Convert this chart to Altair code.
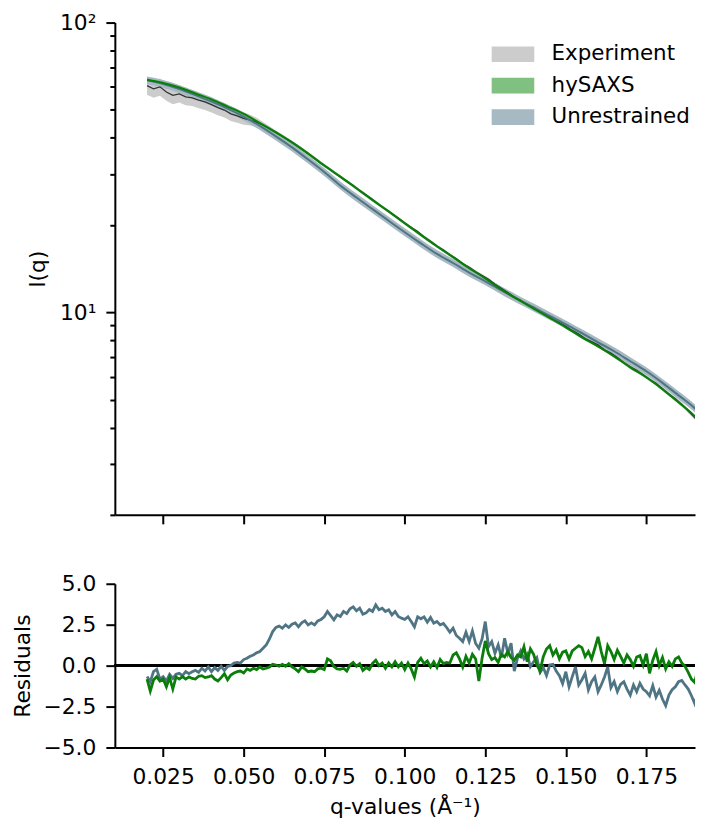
import altair as alt
import pandas as pd

# ---------------- model curves (top panel) ----------------
q_model = [0.020, 0.025, 0.030, 0.035, 0.040, 0.045, 0.050, 0.055, 0.060, 0.065,
           0.070, 0.075, 0.080, 0.085, 0.090, 0.095, 0.100, 0.105, 0.110, 0.115,
           0.120, 0.125, 0.130, 0.135, 0.140, 0.145, 0.150, 0.155, 0.160, 0.165,
           0.170, 0.175, 0.180, 0.185, 0.190, 0.1935]
i_hysaxs = [63.5, 61.9, 59.7, 56.9, 54.3, 51.3, 48.4, 45.0, 41.8, 38.6,
            35.3, 32.1, 29.4, 26.8, 24.4, 22.3, 20.3, 18.5, 16.9, 15.5,
            14.2, 13.1, 12.0, 11.1, 10.3, 9.57, 8.88, 8.20, 7.63, 7.05,
            6.46, 5.97, 5.43, 4.89, 4.38, 3.98]
s_hysaxs = [0.76, 0.74, 0.72, 0.68, 0.65, 0.62, 0.58, 0.54, 0.50, 0.46,
            0.42, 0.39, 0.35, 0.32, 0.29, 0.27, 0.24, 0.22, 0.20, 0.19,
            0.17, 0.16, 0.14, 0.13, 0.12, 0.11, 0.11, 0.10, 0.09, 0.08,
            0.08, 0.07, 0.07, 0.06, 0.05, 0.05]
i_unres = [63.2, 61.4, 59.0, 56.2, 53.4, 50.5, 47.4, 44.0, 40.5, 37.1,
           33.7, 30.5, 27.4, 24.9, 22.7, 20.7, 18.9, 17.3, 15.9, 14.8,
           13.7, 12.8, 11.9, 11.1, 10.4, 9.72, 9.09, 8.47, 7.88, 7.34,
           6.78, 6.26, 5.71, 5.17, 4.67, 4.28]
s_unres = [2.0, 2.0, 1.9, 1.8, 1.7, 1.6, 1.5, 1.4, 1.3, 1.2,
           1.08, 0.98, 0.88, 0.80, 0.73, 0.66, 0.60, 0.55, 0.51, 0.47,
           0.44, 0.41, 0.38, 0.36, 0.33, 0.31, 0.29, 0.27, 0.25, 0.23,
           0.22, 0.20, 0.18, 0.17, 0.15, 0.14]

# ---------------- experiment (q from 0.020 in steps of 0.002) ----------------
exp_i = [60.6, 59.1, 60.0, 57.6, 56.1, 56.7, 55.4, 55.0, 54.0, 53.2,
         52.1, 50.9, 49.9, 48.4, 47.6, 46.7, 46.1, 45.3, 44.3, 43.1,
         41.8, 40.5, 39.2, 37.9, 36.6, 35.3, 34.0, 32.7, 31.6, 30.4,
         29.3, 28.3, 27.4, 26.3, 25.4, 24.5, 23.5, 22.7, 21.9, 21.1,
         20.3, 19.6, 19.0, 18.2, 17.6, 16.9, 16.4, 15.8, 15.3, 14.7,
         14.3, 13.8, 13.4, 13.0, 12.5, 12.1, 11.7, 11.3, 11.0, 10.6,
         10.4, 10.1, 9.80, 9.46, 9.22, 8.94, 8.66, 8.41, 8.12, 7.93,
         7.72, 7.42, 7.24, 6.98, 6.71, 6.49, 6.31, 6.08, 5.86, 5.69,
         5.45, 5.22, 5.03, 4.81, 4.56, 4.33, 4.14]
exp_err = [4.2, 4.1, 4.1, 3.9, 3.8, 3.7, 3.6, 3.5, 3.4, 3.3,
           3.2, 3.0, 2.9, 2.7, 2.5, 2.3, 2.0, 1.6, 1.1, 0.8,
           0.65, 0.6, 0.55, 0.52, 0.5, 0.48, 0.45, 0.42, 0.4, 0.37,
           0.35, 0.33, 0.31, 0.30, 0.29, 0.28, 0.27, 0.26, 0.25, 0.24,
           0.23, 0.22, 0.21, 0.20, 0.19, 0.19, 0.18, 0.18, 0.17, 0.17,
           0.16, 0.16, 0.15, 0.15, 0.14, 0.14, 0.14, 0.13, 0.13, 0.13,
           0.12, 0.12, 0.12, 0.11, 0.11, 0.11, 0.11, 0.10, 0.10, 0.10,
           0.10, 0.10, 0.09, 0.09, 0.09, 0.09, 0.09, 0.08, 0.08, 0.08,
           0.08, 0.08, 0.07, 0.07, 0.07, 0.07, 0.07]

# ---------------- residuals (q from 0.020 in steps of 0.001) ----------------
res_unres = [-0.67, -0.98, -0.37, -0.22, -0.82, -0.67, -0.94, -0.53, -0.78, -0.53,
             -0.47, -0.61, -0.37, -0.49, -0.37, -0.29, -0.41, -0.16, -0.33, -0.08,
             -0.37, -0.12, -0.29, -0.04, -0.29, -0.04, 0.00, 0.16, 0.20, 0.16,
             0.37, 0.45, 0.57, 0.65, 0.78, 0.86, 1.06, 1.27, 1.63, 2.08,
             2.33, 2.41, 2.29, 2.49, 2.33, 2.53, 2.61, 2.37, 2.61, 2.73,
             2.49, 2.61, 2.49, 2.73, 2.82, 2.98, 3.31, 3.06, 2.80, 3.10,
             3.00, 3.31, 3.18, 3.47, 3.59, 3.35, 3.51, 3.14, 3.22, 3.43,
             3.31, 3.71, 3.41, 3.51, 3.31, 3.41, 3.10, 3.31, 3.00, 2.90,
             2.82, 2.98, 2.69, 2.37, 2.98, 2.86, 2.98, 2.65, 2.94, 2.59,
             2.69, 2.49, 2.57, 2.33, 2.04, 2.29, 1.84, 1.67, 1.47, 2.04,
             1.47, 2.12, 1.35, 1.06, 1.63, 2.69, 1.16, 1.47, 0.76, 1.27,
             0.49, 1.67, 0.76, 1.37, -0.33, 0.45, 0.90, 0.41, 0.69, -0.06,
             0.24, 0.49, -0.41, -0.12, -0.61, 0.04, 0.08, -0.33, -0.61, -1.10,
             -0.37, -1.29, -0.67, -0.08, -1.18, -0.86, -0.47, -1.49, -0.98, -0.69,
             -1.59, -1.18, -0.69, -0.08, -1.35, -0.98, -1.59, -1.14, -0.98, -1.43,
             -1.80, -1.18, -1.59, -1.08, -1.43, -1.59, -1.84, -1.22, -1.92, -1.51,
             -2.04, -2.45, -1.80, -1.47, -1.29, -0.98, -0.90, -1.18, -1.43, -1.84,
             -2.31, -1.71, -1.47, -2.00]
res_hysaxs = [-0.82, -1.55, -0.88, -0.67, -0.94, -0.82, -1.29, -0.73, -1.43, -0.69,
              -0.82, -0.67, -0.82, -0.69, -0.78, -0.82, -0.65, -0.61, -0.73, -0.69,
              -0.61, -0.82, -0.94, -0.73, -0.49, -0.86, -0.57, -0.45, -0.37, -0.33,
              -0.45, -0.20, -0.29, -0.16, -0.24, -0.08, -0.20, -0.16, -0.08, 0.08,
              0.04, -0.04, 0.08, -0.04, 0.12, -0.08, -0.20, -0.37, -0.08, -0.20,
              -0.37, -0.33, -0.37, -0.20, -0.16, -0.24, 0.41, 0.30, -0.06, -0.20,
              -0.22, -0.16, -0.33, 0.04, 0.20, -0.04, 0.12, -0.29, -0.12, -0.24,
              0.14, 0.33, 0.00, 0.16, -0.16, 0.16, -0.08, 0.24, -0.08, 0.16,
              -0.24, 0.16, -0.20, -0.69, 0.20, 0.45, 0.12, 0.29, -0.08, 0.24,
              -0.12, 0.37, 0.12, 0.20, 0.16, 0.65, 0.78, 0.41, -0.08, 0.57,
              0.16, 0.69, 0.41, -0.94, 0.45, 1.51, 0.73, 0.37, 0.49, 0.20,
              0.69, 0.53, 0.86, 0.49, 0.33, 0.65, 0.53, 1.16, 0.24, 1.02,
              0.69, 0.04, -0.33, 0.55, 1.02, 1.22, 0.65, 0.96, 0.41, 0.82,
              0.90, 0.41, 0.90, 1.06, 1.22, 1.10, 0.55, 0.86, 0.41, 1.06,
              1.76, 0.86, 0.12, 1.22, 0.86, 0.37, 0.94, 0.57, 0.16, 0.65,
              0.37, -0.04, 0.53, 0.61, 0.04, 0.73, -0.47, 0.33, 0.86, 0.00,
              0.49, -0.20, 0.24, -0.04, 0.41, 0.53, 0.16, -0.04, -0.41, -0.82,
              -1.02, -0.20, -0.47, -0.94]

x_ticks = [0.025, 0.050, 0.075, 0.100, 0.125, 0.150, 0.175]
y_ticks_log = [2, 3, 4, 5, 6, 7, 8, 9, 10, 20, 30, 40, 50, 60, 70, 80, 90, 100]
y_ticks_res = [-5.0, -2.5, 0.0, 2.5, 5.0]
series_names = ["Experiment", "hySAXS", "Unrestrained"]
series_colors = ["#cccccc", "#80c080", "#a7b9c2"]

# ---------------- tables ----------------
q_exp = [round(0.020 + 0.002 * k, 3) for k in range(len(exp_i))]
q_res = [round(0.020 + 0.001 * k, 3) for k in range(len(res_unres))]

exp_df = pd.DataFrame({"q": q_exp, "I": exp_i, "err": exp_err})
exp_df["lo"] = exp_df["I"] - exp_df["err"]
exp_df["hi"] = exp_df["I"] + exp_df["err"]
exp_df["series"] = "Experiment"

hys_df = pd.DataFrame({"q": q_model, "I": i_hysaxs, "s": s_hysaxs})
hys_df["lo"] = hys_df["I"] - hys_df["s"]
hys_df["hi"] = hys_df["I"] + hys_df["s"]
hys_df["series"] = "hySAXS"

unr_df = pd.DataFrame({"q": q_model, "I": i_unres, "s": s_unres})
unr_df["lo"] = unr_df["I"] - unr_df["s"]
unr_df["hi"] = unr_df["I"] + unr_df["s"]
unr_df["series"] = "Unrestrained"

res_u_df = pd.DataFrame({"q": q_res, "r": res_unres})
res_h_df = pd.DataFrame({"q": q_res[:len(res_hysaxs)], "r": res_hysaxs})

FONT = "DejaVu Sans"
FS = 21.8
W = 581

x_scale = alt.Scale(domain=[0.01, 0.1901], nice=False, zero=False)
y_log_scale = alt.Scale(type="log", domain=[2, 100], nice=False)

x_top = alt.X("q:Q", scale=x_scale, title=None,
              axis=alt.Axis(values=x_ticks, labels=False, tickSize=9))
y_top_axis = alt.Axis(
    values=y_ticks_log,
    labelExpr="datum.value == 100 ? '10²' : (datum.value == 10 ? '10¹' : '')",
    tickSize={"condition": {"test": "datum.value == 10 || datum.value == 100", "value": 9}, "value": 5},
    labelOverlap=False, titlePadding=10,
)

color_enc = alt.Color(
    "series:N",
    scale=alt.Scale(domain=series_names, range=series_colors),
    legend=alt.Legend(
        title=None, orient="none", legendX=388, legendY=21,
        symbolType="M-2.72,-1H2.72V1H-2.72Z", symbolSize=246,
        symbolStrokeWidth=0, symbolOpacity=1, labelOffset=28,
        rowPadding=8.5, padding=0, labelFontSize=21.4, labelFont=FONT,
        labelColor="black",
    ),
)

exp_band = alt.Chart(exp_df).mark_area(opacity=1, clip=True).encode(
    x=x_top,
    y=alt.Y("lo:Q", scale=y_log_scale, title="I(q)", axis=y_top_axis),
    y2="hi:Q",
    color=color_enc,
)
unr_band = alt.Chart(unr_df).mark_area(opacity=1, clip=True, interpolate="monotone").encode(
    x=x_top,
    y=alt.Y("lo:Q", scale=y_log_scale, title="I(q)", axis=y_top_axis),
    y2="hi:Q",
    color=color_enc,
)
hys_band = alt.Chart(hys_df).mark_area(opacity=1, clip=True, interpolate="monotone").encode(
    x=x_top,
    y=alt.Y("lo:Q", scale=y_log_scale, title="I(q)", axis=y_top_axis),
    y2="hi:Q",
    color=color_enc,
)
exp_line = alt.Chart(exp_df).mark_line(color="#333333", strokeWidth=1.3, clip=True).encode(
    x=x_top,
    y=alt.Y("I:Q", scale=y_log_scale, title="I(q)", axis=y_top_axis),
)
unr_line = alt.Chart(unr_df).mark_line(color="#4f7585", strokeWidth=2, clip=True,
                                       interpolate="monotone").encode(
    x=x_top,
    y=alt.Y("I:Q", scale=y_log_scale, title="I(q)", axis=y_top_axis),
)
hys_line = alt.Chart(hys_df).mark_line(color="#0a7d0a", strokeWidth=2, clip=True,
                                       interpolate="monotone").encode(
    x=x_top,
    y=alt.Y("I:Q", scale=y_log_scale, title="I(q)", axis=y_top_axis),
)

top = alt.layer(exp_band, unr_band, hys_band, exp_line, unr_line, hys_line).properties(
    width=W, height=493
)

# ---------------- residual panel ----------------
x_bot = alt.X("q:Q", scale=x_scale, title="q-values (Å⁻¹)",
              axis=alt.Axis(values=x_ticks, format=".3f", tickSize=9, labelFlush=False,
                            titlePadding=8))
y_res_scale = alt.Scale(domain=[-5, 5], nice=False, zero=False)
y_res_axis = alt.Axis(values=y_ticks_res, format=".1f", tickSize=9, titlePadding=9)

zero_rule = alt.Chart(res_u_df).mark_rule(color="black", strokeWidth=1.6).encode(
    y=alt.datum(0, scale=y_res_scale, title="Residuals", axis=y_res_axis)
)
res_u_line = alt.Chart(res_u_df).mark_line(color="#4f7585", strokeWidth=2.8, clip=True).encode(
    x=x_bot,
    y=alt.Y("r:Q", scale=y_res_scale, title="Residuals", axis=y_res_axis),
)
res_h_line = alt.Chart(res_h_df).mark_line(color="#0a7d0a", strokeWidth=2.8, clip=True).encode(
    x=x_bot,
    y=alt.Y("r:Q", scale=y_res_scale, title="Residuals", axis=y_res_axis),
)

bottom = alt.layer(zero_rule, res_u_line, res_h_line).properties(width=W, height=164)

chart = alt.vconcat(top, bottom, spacing=47).properties(
    padding={"left": 4, "top": 4, "right": 0, "bottom": 0}
).resolve_scale(
    color="independent"
).resolve_legend(color="independent").configure_view(
    stroke=None
).configure_axis(
    labelFont=FONT, titleFont=FONT, labelFontSize=FS, titleFontSize=FS,
    titleFontWeight="normal", labelColor="black", titleColor="black",
    domainColor="black", tickColor="black", domainWidth=2, tickWidth=2,
    grid=False, labelPadding=10,
)

chart.save("out.html", embed_options={"renderer": "svg", "actions": False})
